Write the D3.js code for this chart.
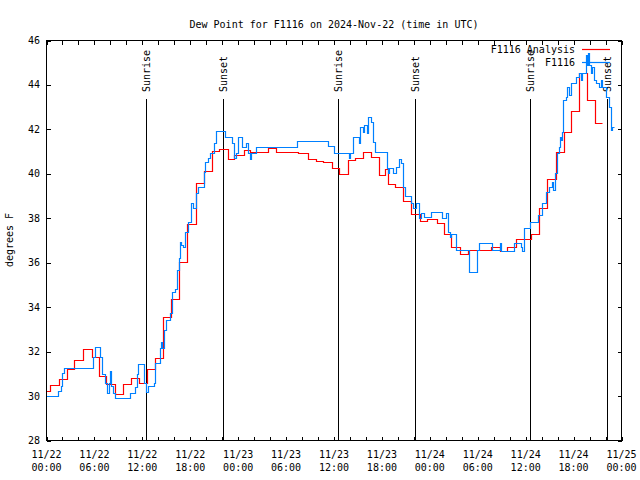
<!DOCTYPE html>
<html><head><meta charset="utf-8">
<script src="https://cdn.jsdelivr.net/npm/d3@7"></script>
<style>
body{margin:0;background:#fff}
svg text{font-family:"DejaVu Sans Mono",monospace;font-size:10px;fill:#000}
</style></head><body><svg id="c" width="640" height="480"></svg>
<script>
const title = "Dew Point for F1116 on 2024-Nov-22 (time in UTC)";
const yLabel = "degrees F";
const startUTC = Date.UTC(2024, 10, 22);
const endUTC = Date.UTC(2024, 10, 25);
const seriesNames = ["F1116 Analysis", "F1116"];
const seriesColors = ["#ff0000", "#0080ff"];

// Analysis (red) — hours since 11/22 00:00 UTC and dew point °F
const anaHours = [0,0.5,1.63,2.59,3.55,4.68,5.73,6.6,7.5,8.7,9.66,10.7,11.67,12.6,13.7,14.68,15.68,16.7,17.7,18.74,19.75,20.75,21.7,22.76,23.55,24.77,25.5,27.8,28.8,31.6,32.85,33.8,34.7,35.77,36.65,37.78,38.7,39.75,40.7,41.75,42.46,42.8,43.76,44.76,45.65,46.77,47.74,48.9,49.8,50.75,51.8,52.84,55.7,56.8,57.7,58.8,60.75,61.75,62.75,63.8,64.8,65.7,66.77,67.7,68.7,69.6];
const anaValues = [30.2,30.46,30.73,31.21,31.6,32.08,31.72,30.9,30.5,30.05,30.5,30.77,30.58,31.18,31.67,33.52,34.33,36.0,37.72,39.55,40.1,41.02,41.08,40.63,40.82,41.05,40.97,41.12,40.97,40.93,40.63,40.54,40.5,40.22,39.97,40.6,40.67,40.94,40.72,39.92,40.18,39.5,39.37,38.77,38.16,37.87,37.94,37.78,37.27,36.7,36.37,36.55,36.7,36.5,36.7,37.03,37.25,38.42,39.73,40.97,41.87,42.82,44.5,43.3,42.25,42.25];

// Observations (blue)
const obsHours = [0,1.54,1.84,2.05,2.26,5.86,6.15,6.77,6.98,7.4,7.7,7.86,7.99,8.15,8.36,8.66,10.46,11.17,11.38,11.5,12.3,12.5,12.76,13.47,13.68,14.22,14.35,14.51,14.8,15.06,15.56,15.73,16.1,16.4,16.6,16.73,16.9,17.15,17.44,17.74,18.2,18.41,18.83,19.03,19.75,19.96,20.29,20.58,21.0,21.25,22.39,23.34,23.51,23.76,24.06,24.6,25.1,25.31,25.52,25.73,26.27,31.46,35.27,36.06,37.9,38.06,38.49,39.16,39.33,39.66,39.87,40.16,40.29,40.71,41.0,41.25,42.67,42.84,43.0,43.51,43.85,44.18,44.47,44.68,44.93,45.69,45.94,46.36,46.69,46.99,47.28,48.24,49.62,50.12,50.33,50.54,50.75,51.38,52.97,53.97,54.22,55.85,56.81,56.97,58.66,59.5,59.6,59.82,60.58,61.59,62.13,62.67,62.97,63.39,63.51,63.68,63.93,64.22,64.35,64.51,64.64,64.77,65.06,65.27,65.48,65.69,66.32,66.73,66.94,67.15,67.57,67.78,67.86,68.03,68.2,68.41,68.62,68.83,69.25,69.45,69.66,70.08,70.5,70.71,70.92,71.1];
const obsValues = [29.98,30.2,30.43,31.0,31.22,31.75,32.2,31.75,30.97,30.58,30.13,30.55,31.12,30.43,30.13,29.9,30.13,30.4,30.97,31.4,30.58,30.17,30.43,30.58,31.45,32.12,32.4,32.12,32.95,33.4,33.7,34.67,34.78,35.65,36.17,36.92,36.77,36.7,37.37,37.8,38.65,38.42,39.1,39.37,40.07,40.52,40.67,40.9,41.35,41.92,41.65,41.35,40.67,40.9,41.62,41.2,41.35,40.9,40.63,40.9,41.2,41.47,41.23,40.93,40.67,40.9,41.62,41.38,42.1,41.87,42.17,41.83,42.52,42.32,41.42,40.97,40.22,40.0,40.22,40.0,40.3,40.63,40.45,39.4,38.98,38.65,38.42,38.65,37.97,38.2,38.05,38.27,37.97,38.2,37.37,37.15,37.27,36.55,35.57,36.55,36.85,36.55,36.85,36.52,36.85,36.7,36.52,37.52,37.82,38.12,38.65,39.17,39.4,39.62,39.25,40.0,40.9,41.2,41.65,41.5,41.87,43.3,43.45,43.9,43.52,44.05,44.35,44.5,44.2,44.5,45.32,44.87,45.4,44.87,44.5,44.8,44.2,44.05,43.9,44.2,43.9,43.45,43.0,41.95,42.1,42.1];

const sunHours = [12.5, 22.15, 36.57, 46.23, 60.63, 70.27];
const sunLabels = ["Sunrise", "Sunset", "Sunrise", "Sunset", "Sunrise", "Sunset"];
const yTickValues = [28,30,32,34,36,38,40,42,44,46];

const H = 3600000;
const toDate = h => new Date(startUTC + h * H);
const px = v => Math.round(v - 0.5) + 0.5;

const svg = d3.select("#c");
const L = 46.5, R = 621.5, T = 40.5, B = 440.5;
const x = d3.scaleUtc().domain([new Date(startUTC), new Date(endUTC)]).range([L, R]);
const y = d3.scaleLinear().domain([28, 46]).range([B, T]);

// title
svg.append("text").attr("x", (L + R) / 2).attr("y", 28).attr("text-anchor", "middle").text(title);
// y label
svg.append("text").attr("transform", "translate(13,240) rotate(-90)").attr("text-anchor", "middle").text(yLabel);

// axes (ticks inward, mirrored)
const xTicks = d3.utcHour.every(2).range(new Date(startUTC), new Date(endUTC + 1));
const axB = svg.append("g").attr("transform", `translate(0,${B})`)
  .call(d3.axisBottom(x).tickValues(xTicks).tickSize(-4).tickFormat(""));
const axT = svg.append("g").attr("transform", `translate(0,${T})`)
  .call(d3.axisTop(x).tickValues(xTicks).tickSize(-4).tickFormat(""));
const axL = svg.append("g").attr("transform", `translate(${L},0)`)
  .call(d3.axisLeft(y).tickValues(yTickValues).tickSize(-4).tickFormat(""));
const axR = svg.append("g").attr("transform", `translate(${R},0)`)
  .call(d3.axisRight(y).tickValues(yTickValues).tickSize(-4).tickFormat(""));
[axB, axT, axL, axR].forEach(g => {
  g.select(".domain").remove();
  g.selectAll("line").attr("stroke", "#000").attr("shape-rendering", "crispEdges");
});

// y tick labels
svg.append("g").selectAll("text").data(yTickValues).join("text")
  .attr("x", 40).attr("y", d => y(d)).attr("dy", "0.35em").attr("text-anchor", "end").text(d => d);

// x tick labels every 6h
const labTicks = d3.utcHour.every(6).range(new Date(startUTC), new Date(endUTC + 1));
const fmtD = d3.utcFormat("%m/%d"), fmtT = d3.utcFormat("%H:%M");
const xl = svg.append("g").selectAll("text").data(labTicks).join("text")
  .attr("text-anchor", "middle");
xl.append("tspan").attr("x", d => x(d)).attr("y", 458).text(fmtD);
xl.append("tspan").attr("x", d => x(d)).attr("y", 471).text(fmtT);

// sunrise/sunset
const sun = svg.append("g").selectAll("g").data(sunHours).join("g");
sun.append("line").attr("x1", d => px(x(toDate(d)))).attr("x2", d => px(x(toDate(d))))
  .attr("y1", 99).attr("y2", B).attr("stroke", "#000");
sun.append("text").attr("transform", d => `translate(${x(toDate(d))},92) rotate(-90)`)
  .attr("dy", "0.35em").text((d, i) => sunLabels[i]);

// series
const line = d3.line().x(d => px(x(toDate(d[0])))).y(d => px(y(d[1]))).curve(d3.curveStepAfter);
const anaData = anaHours.map((h, i) => [h, anaValues[i]]);
const obsData = obsHours.map((h, i) => [h, obsValues[i]]);
[anaData, obsData].forEach((data, i) => {
  svg.append("path").datum(data).attr("d", line).attr("fill", "none")
    .attr("stroke", seriesColors[i]).attr("stroke-width", 1.2).attr("stroke-linejoin", "miter");
});

// legend
seriesNames.forEach((n, i) => {
  const ly = 49 + i * 13;
  svg.append("text").attr("x", 575).attr("y", ly).attr("dy", "0.35em").attr("text-anchor", "end").text(n);
  svg.append("line").attr("x1", 582).attr("x2", 610).attr("y1", ly + 0.5).attr("y2", ly + 0.5)
    .attr("stroke", seriesColors[i]).attr("stroke-width", 1.2);
});

// frame
svg.append("rect").attr("x", L).attr("y", T).attr("width", R - L).attr("height", B - T)
  .attr("fill", "none").attr("stroke", "#000").attr("shape-rendering", "crispEdges");
</script></body></html>
